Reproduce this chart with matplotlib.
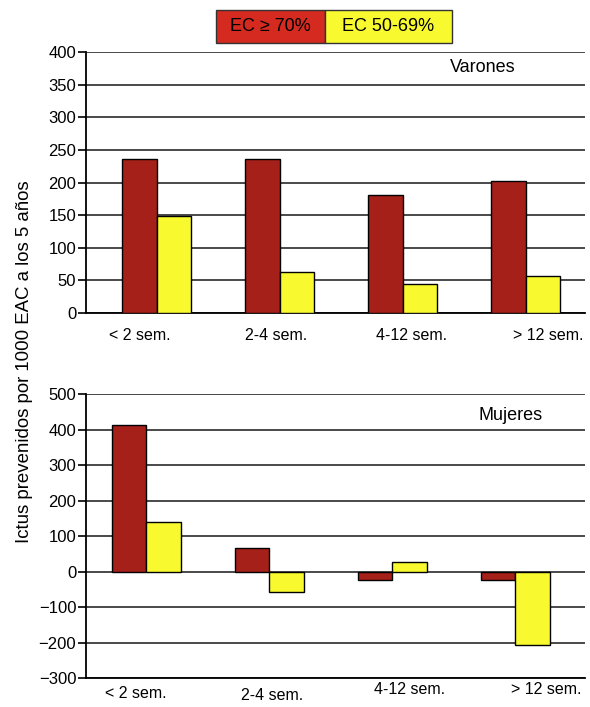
import numpy as np
import matplotlib
matplotlib.use("Agg")
import matplotlib.pyplot as plt
from matplotlib.patches import Rectangle
from matplotlib.transforms import ScaledTranslation

plt.rcParams['font.family'] = ['Liberation Sans', 'DejaVu Sans']

# data
categories = ["< 2 sem.", "2-4 sem.", "4-12 sem.", "> 12 sem."]
series = ["EC \u2265 70%", "EC 50-69%"]
varones_70 = [236, 236, 181, 203]
varones_50 = [149, 63, 44, 56]
mujeres_70 = [413, 67, -24, -24]
mujeres_50 = [139, -57, 26, -207]
ylabel = "Ictus prevenidos por 1000 EAC a los 5 años"

red = "#A52019"
yellow = "#F9F930"
legend_red = "#D42A1F"

fig = plt.figure(figsize=(5.9, 7.07), dpi=100)
ax1 = fig.add_axes([0.1458, 0.5573, 0.8457, 0.3691])
ax2 = fig.add_axes([0.1458, 0.0410, 0.8457, 0.4017])

x = np.arange(len(categories))
w = 0.28


def draw(ax, v70, v50, ylim, yticks, xlim, label_pos, pad, title, title_xy):
    ax.bar(x - w / 2, v70, w, color=red, edgecolor="black", linewidth=1, zorder=3)
    ax.bar(x + w / 2, v50, w, color=yellow, edgecolor="black", linewidth=1, zorder=3)
    ax.set_xlim(*xlim)
    ax.set_ylim(*ylim)
    ax.set_yticks(yticks)
    ax.yaxis.grid(True, color="#2a2a2a", linewidth=1.2, zorder=0)
    ax.set_axisbelow(True)
    ax.set_xticks(label_pos)
    ax.set_xticklabels(categories, fontsize=11.5)
    ax.tick_params(axis="x", length=0, pad=pad)
    ax.tick_params(axis="y", length=6, width=1.2, pad=1, labelsize=12)
    for s in ["top", "right"]:
        ax.spines[s].set_visible(False)
    for s in ["left", "bottom"]:
        ax.spines[s].set_linewidth(1.3)
    ax.text(title_xy[0], title_xy[1], title, transform=ax.transAxes,
            ha="center", va="center", fontsize=13)


draw(ax1, varones_70, varones_50, (0, 400), np.arange(0, 401, 50),
     (-0.575, 3.48), np.linspace(-0.14, 3.18, 4), 11,
     "Varones", (0.795, 0.94))
draw(ax2, mujeres_70, mujeres_50, (-300, 500), np.arange(-300, 501, 100),
     (-0.488, 3.567), np.linspace(-0.087, 3.256, 4), 6,
     "Mujeres", (0.85, 0.925))

# the lower labels sit at slightly different heights
for lbl, dy in zip(ax2.get_xticklabels(), [0, -2, 4, 4]):
    lbl.set_transform(lbl.get_transform() + ScaledTranslation(0, dy / 100, fig.dpi_scale_trans))

fig.text(0.042, 0.489, ylabel, rotation=90, ha="center", va="center", fontsize=13.4)

# legend boxes at the top
lx0, lx1, lx2 = 216 / 590, 325 / 590, 452 / 590
ly0, ly1 = 1 - 43 / 707, 1 - 10 / 707
for (a, b), c, t in zip([(lx0, lx1), (lx1, lx2)], [legend_red, yellow], series):
    fig.patches.append(Rectangle((a, ly0), b - a, ly1 - ly0, transform=fig.transFigure,
                                 facecolor=c, edgecolor="#333333", linewidth=1))
    fig.text((a + b) / 2, (ly0 + ly1) / 2, t, ha="center", va="center", fontsize=13)

fig.savefig("out.png", dpi=100)
